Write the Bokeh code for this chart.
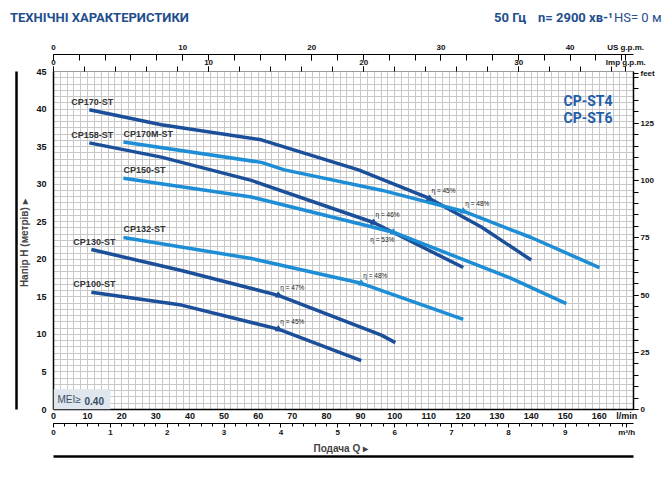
from bokeh.plotting import figure
from bokeh.layouts import column
from bokeh.models import (Range1d, LinearAxis, FixedTicker, SingleIntervalTicker,
                          Label, BoxAnnotation, ColumnDataSource, Div)
from bokeh.core.properties import value
from bokeh.embed import file_html
from bokeh.resources import INLINE

# ---------------- data ----------------
flow_ticks_lmin = [0, 10, 20, 30, 40, 50, 60, 70, 80, 90, 100, 110, 120, 130, 140, 150, 160]
flow_ticks_m3h = [0, 1, 2, 3, 4, 5, 6, 7, 8, 9]
head_ticks_m = [0, 5, 10, 15, 20, 25, 30, 35, 40, 45]
head_ticks_ft = [0, 25, 50, 75, 100, 125]
us_gpm_ticks = [0, 10, 20, 30, 40]
imp_gpm_ticks = [0, 10, 20, 30]

q_cp170 = [10.5, 31.6, 60.9, 89.4, 110.2, 125.4, 140.0]
h_cp170 = [39.9, 37.9, 35.9, 31.9, 28.1, 24.3, 19.9]
q_cp158 = [10.5, 31.6, 58.0, 93.8, 120.1]
h_cp158 = [35.5, 33.6, 30.5, 24.9, 18.9]
q_cp170m = [20.5, 60.9, 67.7, 96.1, 120.1, 140.0, 160.0]
h_cp170m = [35.6, 32.9, 31.9, 29.2, 26.4, 22.9, 18.9]
q_cp150 = [20.5, 58.0, 99.6, 134.0, 150.3]
h_cp150 = [30.8, 28.3, 23.6, 17.5, 14.1]
q_cp132 = [20.5, 58.0, 90.2, 120.1]
h_cp132 = [22.9, 20.1, 16.8, 12.0]
q_cp130 = [11.1, 37.5, 65.9, 96.1, 100.2]
h_cp130 = [21.3, 18.5, 15.2, 9.9, 8.9]
q_cp100 = [11.1, 37.5, 65.9, 90.2]
h_cp100 = [15.6, 13.9, 10.7, 6.5]

curve_names = ["CP170-ST", "CP158-ST", "CP170M-ST", "CP150-ST", "CP132-ST", "CP130-ST", "CP100-ST"]
curve_tones = ["dark", "dark", "light", "light", "light", "dark", "dark"]
curve_q = [q_cp170, q_cp158, q_cp170m, q_cp150, q_cp132, q_cp130, q_cp100]
curve_h = [h_cp170, h_cp158, h_cp170m, h_cp150, h_cp132, h_cp130, h_cp100]

eta_q = [110.2, 120.1, 93.8, 99.6, 90.2, 65.9, 65.9]
eta_h = [28.1, 26.4, 24.9, 23.6, 16.8, 15.2, 10.7]
eta_text = ["η = 45%", "η = 48%", "η = 46%", "η = 53%", "η = 48%", "η = 47%", "η = 45%"]
eta_tones = ["dark", "light", "dark", "light", "light", "dark", "dark"]
eta_below = [False, False, False, True, False, False, False]

# ---------------- styling ----------------
DARK = "#1c4f9a"
LIGHT = "#1d8ed6"
TONE = {"dark": DARK, "light": LIGHT}
HEAD_BLUE = "#1f4e8d"
FONT = "Liberation Sans"
HFONT = "Roboto"

QMAX = 170.0
HMAX = 45.0
W = 660

# ---------------- header strip ----------------
span = "position:absolute;top:10px;white-space:nowrap;"
hdr = Div(width=W, height=30, margin=0, text=(
    f'<div style="position:relative;width:{W}px;height:30px;font-family:{HFONT},sans-serif;'
    f'font-size:13px;line-height:16px;color:{HEAD_BLUE};">'
    f'<span style="{span}left:10px;font-weight:bold;">ТЕХНІЧНІ ХАРАКТЕРИСТИКИ</span>'
    f'<span style="{span}left:494px;font-weight:bold;">50 Гц</span>'
    f'<span style="{span}left:538px;font-weight:bold;">n= 2900 хв-¹</span>'
    f'<span style="{span}left:614px;">HS= 0 м</span>'
    '</div>'))

# ---------------- main chart ----------------
p = figure(width=W, height=433,
           x_range=Range1d(0, QMAX), y_range=Range1d(0, HMAX),
           output_backend="svg", toolbar_location=None,
           min_border_left=53, min_border_right=27,
           min_border_top=41, min_border_bottom=54)
p.outline_line_color = None
p.background_fill_color = "white"

p.extra_x_ranges = {
    "m3h": Range1d(0, QMAX * 60 / 1000),
    "us": Range1d(0, QMAX / 3.78541),
    "imp": Range1d(0, QMAX / 4.54609),
}
p.extra_y_ranges = {"feet": Range1d(0, HMAX / 0.3048)}

p.xgrid.ticker = SingleIntervalTicker(interval=2)
p.ygrid.ticker = SingleIntervalTicker(interval=5 / 6)
for g in (p.xgrid, p.ygrid):
    g.grid_line_color = "#c8c8c8"
    g.grid_line_width = 1


def style_axis(ax, size="9px"):
    ax.major_label_text_font = FONT
    ax.major_label_text_font_style = "bold"
    ax.major_label_text_font_size = size
    ax.major_label_text_color = "#111111"
    ax.axis_line_color = "black"


# bottom l/min axis
xa = p.xaxis[0]
style_axis(xa)
xa.ticker = FixedTicker(ticks=flow_ticks_lmin + [168], minor_ticks=[])
xa.major_label_overrides = {168: "l/min"}
xa.major_tick_out = 0
xa.major_tick_in = 0
xa.axis_line_width = 1.5
xa.major_label_standoff = 1

# bottom m3/h axis
m3 = LinearAxis(x_range_name="m3h")
style_axis(m3, "8px")
m3.ticker = FixedTicker(ticks=flow_ticks_m3h + [10.08],
                        minor_ticks=[round(i * 0.2, 2) for i in range(0, 51)])
m3.major_label_overrides = {10.08: "m³/h"}
m3.major_tick_in = 0
m3.major_tick_out = 4
m3.minor_tick_in = 0
m3.minor_tick_out = 3
m3.major_label_standoff = 0
m3.axis_label = "Подача  Q  ▸"
m3.axis_label_text_font = FONT
m3.axis_label_text_font_style = "bold"
m3.axis_label_text_font_size = "10px"
m3.axis_label_standoff = 3
p.add_layout(m3, "below")

# thick bottom rule
rule_b = LinearAxis()
rule_b.ticker = FixedTicker(ticks=[])
rule_b.major_label_text_font_size = "0px"
rule_b.major_tick_out = 0
rule_b.minor_tick_out = 0
rule_b.axis_line_width = 2.5
rule_b.axis_line_color = "black"
p.add_layout(rule_b, "below")

# left metres axis
ya = p.yaxis[0]
style_axis(ya)
ya.ticker = FixedTicker(ticks=head_ticks_m, minor_ticks=[])
ya.major_tick_out = 0
ya.major_tick_in = 0
ya.axis_line_width = 1.5
ya.major_label_standoff = 7
ya.axis_label = "Напір H  (метрів)  ▸"
ya.axis_label_text_font = FONT
ya.axis_label_text_font_style = "bold"
ya.axis_label_text_font_size = "10px"
ya.axis_label_standoff = 3

rule_l = LinearAxis()
rule_l.ticker = FixedTicker(ticks=[])
rule_l.major_label_text_font_size = "0px"
rule_l.major_tick_out = 0
rule_l.minor_tick_out = 0
rule_l.axis_line_width = 2.5
rule_l.axis_line_color = "black"
p.add_layout(rule_l, "left")

# right feet axis
fa = LinearAxis(y_range_name="feet")
style_axis(fa, "8px")
fa.ticker = FixedTicker(ticks=head_ticks_ft + [146.6], minor_ticks=list(range(0, 146, 5)))
fa.major_label_overrides = {146.6: "feet"}
fa.major_tick_in = 0
fa.major_tick_out = 5
fa.minor_tick_in = 0
fa.minor_tick_out = 5
fa.axis_line_width = 1.5
fa.major_label_standoff = 2
p.add_layout(fa, "right")

# top imp gpm axis
ia = LinearAxis(x_range_name="imp")
style_axis(ia, "8px")
ia.ticker = FixedTicker(ticks=imp_gpm_ticks + [36.9], minor_ticks=list(range(0, 37, 2)))
ia.major_label_overrides = {36.9: "Imp g.p.m."}
ia.major_tick_in = 0
ia.major_tick_out = 5
ia.minor_tick_in = 0
ia.minor_tick_out = 5
ia.axis_line_color = "#9a9a9a"
ia.major_label_standoff = 0
p.add_layout(ia, "above")

# top us gpm axis
ua = LinearAxis(x_range_name="us")
style_axis(ua, "8px")
ua.ticker = FixedTicker(ticks=us_gpm_ticks + [44.3], minor_ticks=list(range(0, 45, 2)))
ua.major_label_overrides = {44.3: "US g.p.m."}
ua.major_tick_in = 6
ua.major_tick_out = 0
ua.minor_tick_in = 6
ua.minor_tick_out = 0
ua.axis_line_width = 1.2
ua.major_label_standoff = 3
p.add_layout(ua, "above")

# MEI box
p.add_layout(BoxAnnotation(left=0, right=16.7, bottom=0, top=2.7,
                           fill_color="#dfe6ee", fill_alpha=1, line_color=None))
p.add_layout(Label(x=4, y=5, x_units="screen", y_units="screen", text="MEI≥",
                   text_font=FONT, text_font_size="10px", text_color="#3b4d63"))
p.add_layout(Label(x=31, y=5, x_units="screen", y_units="screen", text="0.40",
                   text_font=FONT, text_font_style="bold", text_font_size="10px",
                   text_color="#3b4d63"))

# curves
for name, tone, q, h in zip(curve_names, curve_tones, curve_q, curve_h):
    p.line(q, h, line_width=3.5, line_color=TONE[tone])
    p.text(x=[q[0]], y=[h[0]], text=[name],
           x_offset=-18 if tone == "dark" else 0, y_offset=-3,
           text_baseline="bottom", text_align="left",
           text_font=value(FONT), text_font_style="bold",
           text_font_size="9px", text_color="#333333")

# efficiency markers
eta_src = ColumnDataSource(dict(
    q=eta_q, h=eta_h, t=eta_text,
    c=[TONE[t] for t in eta_tones],
    dx=[-23 if b else 2 for b in eta_below],
    dy=[11 if b else -4 for b in eta_below],
))
p.scatter("q", "h", source=eta_src, marker="triangle", size=6,
          fill_color="c", line_color="c")
p.text("q", "h", text="t", source=eta_src, x_offset="dx", y_offset="dy",
       text_font=value(FONT), text_font_size="6.5px", text_color="#222222",
       text_baseline="bottom")

# model series badge
for txt, yy in (("CP-ST4", 309), ("CP-ST6", 292)):
    p.add_layout(Label(x=510, y=yy, x_units="screen", y_units="screen", text=txt,
                       text_font=HFONT, text_font_style="bold", text_font_size="14px",
                       text_color="#1f5ea8", text_baseline="middle"))

layout = column(hdr, p, spacing=0)
open("out.html", "w").write(file_html(layout, INLINE))
